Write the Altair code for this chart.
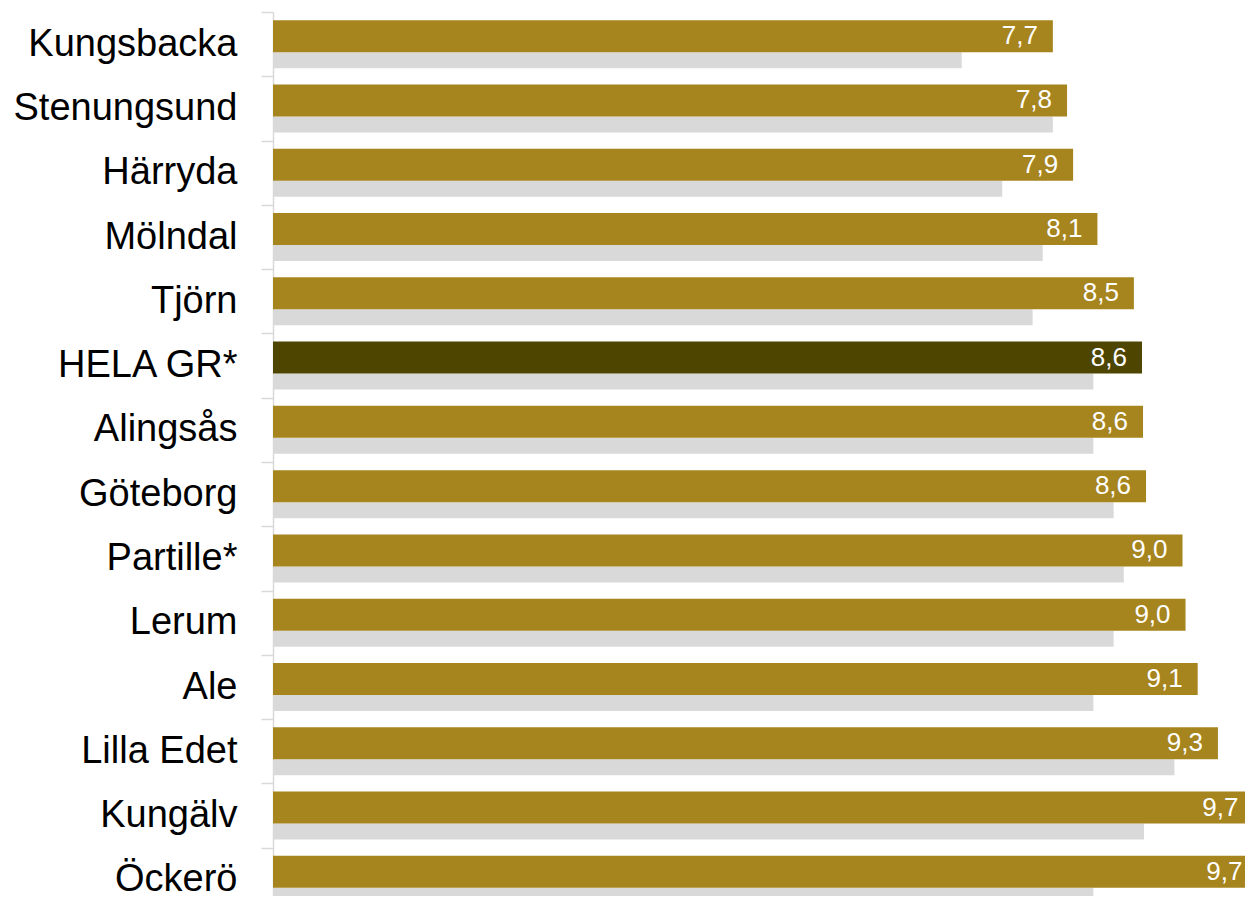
import altair as alt
import pandas as pd

kommuner = ["Kungsbacka", "Stenungsund", "Härryda", "Mölndal", "Tjörn", "HELA GR*",
            "Alingsås", "Göteborg", "Partille*", "Lerum", "Ale", "Lilla Edet",
            "Kungälv", "Öckerö"]
nu = [7.70, 7.84, 7.90, 8.14, 8.50, 8.58, 8.59, 8.62, 8.98, 9.01, 9.13, 9.33, 9.68, 9.72]
tidigare = [6.8, 7.7, 7.2, 7.6, 7.5, 8.1, 8.1, 8.3, 8.4, 8.3, 8.1, 8.9, 8.6, 8.1]

df = pd.DataFrame({
    "kommun": kommuner,
    "nu": nu,
    "tidigare": tidigare,
    "etikett": [f"{v:.1f}".replace(".", ",") for v in nu],
    "grupp": ["total" if k == "HELA GR*" else "kommun" for k in kommuner],
})

PLOT_W = 972
X_MAX = PLOT_W / 101.28

y = alt.Y(
    "kommun:N",
    sort=kommuner,
    scale=alt.Scale(paddingInner=0, paddingOuter=0, range=[0, 900]),
    axis=alt.Axis(
        title=None,
        labelFont="Liberation Sans",
        labelFontSize=38,
        labelColor="#000000",
        labelPadding=24,
        labelLimit=400,
        tickSize=12,
        tickColor="#D9D9D9",
        tickWidth=1.5,
        tickBand="extent",
        domainColor="#D9D9D9",
        domainWidth=1.5,
    ),
)
xs = alt.Scale(domain=[0, X_MAX], nice=False, zero=True)

gray = alt.Chart(df).mark_bar(height=16, yOffset=16, color="#D9D9D9", clip=True).encode(
    x=alt.X("tidigare:Q", scale=xs, axis=None),
    y=y,
)

gold = alt.Chart(df).mark_bar(height=32, yOffset=-8, clip=True).encode(
    x=alt.X("nu:Q", scale=xs, axis=None),
    y=y,
    color=alt.Color("grupp:N", scale=alt.Scale(domain=["kommun", "total"],
                                               range=["#A6841E", "#4E4500"]), legend=None),
)

text = alt.Chart(df).mark_text(
    align="right", baseline="middle", dx=-15, yOffset=-8,
    font="Liberation Sans", fontSize=26, color="#FFFFFF",
).encode(
    x=alt.X("nu:Q", scale=xs, axis=None),
    y=y,
    text="etikett:N",
)

chart = alt.layer(gray, gold, text).properties(
    width=PLOT_W,
    height=884,
    autosize=alt.AutoSizeParams(type="none"),
    padding={"left": 265, "top": 4, "right": 0, "bottom": 0},
    background="#FFFFFF",
).configure_view(stroke=None)

chart.save("out.html", embed_options={"renderer": "svg", "actions": False})
